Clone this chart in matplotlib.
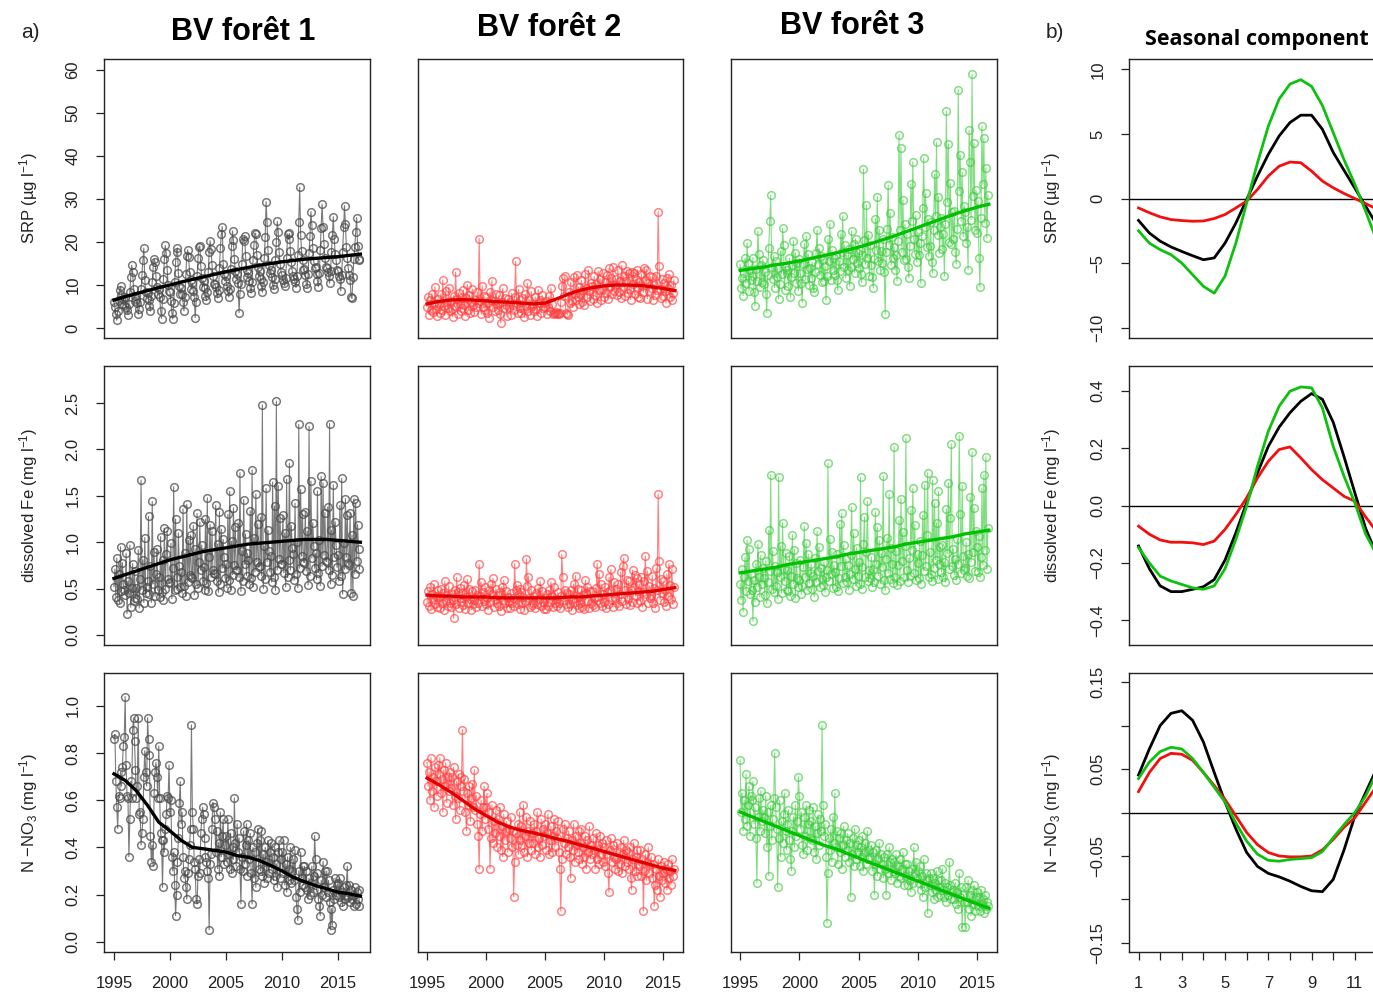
import numpy as np
import matplotlib
matplotlib.use('Agg')
import matplotlib.pyplot as plt
import matplotlib.ticker as ticker

plt.rcParams['font.family'] = ['Liberation Sans', 'DejaVu Sans']
plt.rcParams['mathtext.fontset'] = 'custom'
plt.rcParams['mathtext.rm'] = 'Liberation Sans'
plt.rcParams['mathtext.it'] = 'Liberation Sans:italic'
plt.rcParams['mathtext.bf'] = 'Liberation Sans:bold'

# ==============================================================================
# DADOS (valeurs mensuelles, une ligne par annee)
# ==============================================================================
# BV foret 1 : 1995-2016, BV foret 2 et 3 : 1995-2015
months_f1 = 1995 + np.arange(22 * 12) / 12.0
months_f23 = 1995 + np.arange(21 * 12) / 12.0
years_f1 = list(range(1995, 2018))
years_f23 = list(range(1995, 2017))

srp_f1 = [
    [6.1, 4.8, 3.2, 1.8, 4.0, 6.5, 8.9, 9.7, 7.6, 5.5, 6.8, 5.3],
    [7.2, 5.0, 4.3, 3.1, 5.6, 8.4, 11.8, 14.6, 13.0, 9.1, 7.4, 6.2],
    [6.8, 5.9, 3.2, 4.5, 6.1, 9.0, 12.4, 15.8, 18.6, 11.2, 8.3, 7.0],
    [8.1, 6.4, 5.2, 3.9, 7.4, 10.6, 14.2, 16.1, 15.3, 12.0, 9.5, 7.8],
    [9.0, 7.1, 4.0, 2.2, 6.8, 11.3, 16.0, 19.2, 17.4, 13.6, 10.1, 8.6],
    [8.4, 6.2, 3.6, 2.1, 5.9, 10.8, 15.4, 17.8, 18.6, 12.9, 9.8, 7.9],
    [9.3, 8.0, 6.1, 4.0, 7.2, 12.5, 16.8, 18.2, 16.5, 13.0, 11.2, 9.0],
    [10.4, 8.6, 7.3, 2.4, 6.0, 12.0, 16.2, 18.9, 19.1, 14.4, 11.7, 9.6],
    [11.0, 9.2, 7.5, 6.4, 8.3, 13.1, 17.6, 20.3, 18.4, 14.7, 12.1, 10.3],
    [10.2, 9.6, 8.1, 7.0, 8.8, 14.0, 18.5, 21.9, 23.6, 15.0, 12.6, 10.9],
    [12.1, 9.8, 8.5, 7.2, 9.1, 13.8, 19.0, 22.6, 20.4, 16.1, 13.3, 11.4],
    [12.5, 10.4, 3.6, 8.0, 10.2, 15.0, 20.6, 20.2, 21.4, 16.8, 13.6, 11.8],
    [12.9, 10.9, 9.2, 8.1, 10.6, 15.9, 19.4, 22.1, 21.8, 17.0, 14.2, 12.0],
    [13.2, 11.3, 9.8, 8.3, 10.8, 16.3, 21.2, 29.4, 24.6, 18.1, 14.6, 12.7],
    [13.5, 11.9, 10.0, 9.1, 11.3, 15.8, 20.1, 24.8, 22.3, 17.6, 15.0, 13.1],
    [12.3, 11.2, 10.4, 9.8, 11.6, 16.4, 21.9, 20.6, 22.0, 18.0, 15.3, 13.2],
    [12.0, 11.5, 10.6, 9.4, 12.1, 17.0, 24.6, 32.8, 21.7, 17.9, 15.8, 13.4],
    [13.8, 12.4, 10.3, 9.3, 12.6, 17.5, 21.4, 27.1, 24.0, 18.5, 15.6, 14.0],
    [14.2, 12.6, 11.0, 9.6, 12.9, 18.1, 23.2, 28.8, 23.5, 19.6, 16.2, 14.3],
    [14.0, 13.1, 12.0, 10.4, 13.2, 17.6, 21.6, 25.9, 20.8, 17.2, 15.8, 13.6],
    [13.3, 12.2, 11.4, 8.6, 12.4, 17.8, 23.6, 28.5, 24.1, 18.8, 16.4, 13.9],
    [12.4, 11.2, 7.2, 6.9, 11.8, 16.0, 18.9, 22.4, 25.7, 19.0, 16.1, 15.8],
]
srp_f2 = [
    [5.0, 7.2, 3.1, 6.4, 4.2, 8.0, 3.7, 5.8, 9.6, 4.5, 2.8, 6.8],
    [5.5, 3.4, 7.9, 4.1, 11.2, 5.2, 3.0, 8.6, 6.1, 4.7, 9.4, 3.9],
    [6.3, 4.4, 2.6, 7.5, 5.1, 13.0, 6.7, 3.3, 8.2, 5.6, 4.0, 7.0],
    [4.6, 8.8, 5.3, 2.9, 6.9, 10.1, 4.3, 7.7, 3.6, 6.0, 9.1, 5.4],
    [3.8, 6.5, 4.9, 8.3, 5.7, 20.8, 6.2, 3.2, 9.8, 5.0, 7.4, 4.2],
    [7.1, 3.5, 5.9, 2.4, 8.4, 6.6, 11.0, 4.8, 6.3, 3.9, 8.0, 5.5],
    [4.3, 7.6, 3.3, 1.2, 6.1, 9.2, 4.6, 7.0, 5.3, 2.7, 6.8, 4.9],
    [6.0, 3.1, 8.1, 5.4, 4.1, 7.3, 15.5, 5.9, 3.4, 9.0, 4.7, 6.4],
    [3.6, 6.9, 4.5, 2.5, 7.8, 5.2, 10.4, 4.0, 6.6, 3.0, 8.5, 5.1],
    [5.6, 3.9, 7.2, 4.4, 2.9, 8.9, 5.7, 6.5, 3.5, 7.6, 4.6, 5.8],
    [4.9, 6.2, 3.2, 5.0, 7.4, 4.0, 9.3, 5.5, 3.3, 3.6, 3.4, 3.7],
    [3.3, 3.5, 3.2, 3.4, 6.1, 9.8, 11.6, 7.4, 12.2, 3.6, 3.3, 3.1],
    [8.4, 5.9, 10.7, 6.3, 4.8, 11.9, 8.0, 6.6, 12.4, 7.2, 9.5, 5.6],
    [7.9, 11.1, 6.0, 8.8, 5.4, 12.6, 9.3, 7.1, 13.5, 8.5, 6.3, 10.4],
    [9.7, 6.8, 12.0, 7.6, 10.3, 5.9, 13.2, 8.9, 11.5, 6.4, 9.1, 12.8],
    [7.3, 10.6, 8.2, 12.3, 6.7, 13.9, 9.8, 11.7, 7.9, 14.1, 8.6, 10.0],
    [11.4, 7.7, 13.6, 8.4, 10.9, 6.9, 14.6, 9.5, 12.1, 7.4, 11.0, 13.3],
    [8.1, 12.7, 9.0, 6.6, 13.0, 10.2, 12.9, 7.8, 11.3, 9.4, 13.5, 7.2],
    [10.8, 7.0, 12.5, 9.7, 8.3, 14.0, 11.2, 13.6, 6.8, 10.5, 8.7, 12.0],
    [9.3, 11.8, 6.5, 10.1, 7.6, 12.2, 8.9, 27.1, 14.4, 9.0, 6.9, 11.5],
    [7.5, 10.4, 8.6, 5.8, 11.6, 9.2, 12.5, 7.1, 10.0, 6.4, 8.2, 11.2],
]
srp_f3 = [
    [14.8, 9.2, 11.6, 7.5, 12.9, 16.3, 10.4, 19.8, 15.1, 8.7, 13.5, 11.2],
    [12.1, 16.4, 8.3, 5.2, 13.8, 11.0, 22.5, 17.2, 9.6, 14.7, 10.8, 15.9],
    [10.3, 13.1, 7.9, 3.6, 12.4, 18.7, 24.8, 30.9, 14.2, 11.5, 16.8, 9.4],
    [15.5, 11.8, 13.9, 6.8, 10.2, 17.9, 12.6, 23.2, 19.4, 8.9, 14.3, 12.7],
    [13.4, 9.8, 16.2, 7.1, 11.9, 14.6, 20.3, 12.8, 17.5, 10.4, 15.2, 8.6],
    [16.1, 12.7, 10.5, 5.9, 14.8, 19.6, 11.3, 21.4, 13.7, 17.2, 9.9, 14.0],
    [11.6, 15.3, 9.2, 8.4, 13.1, 17.4, 22.8, 14.9, 18.6, 12.3, 16.7, 10.8],
    [15.8, 10.9, 14.4, 6.5, 12.0, 20.7, 15.6, 24.3, 11.2, 18.1, 13.5, 16.2],
    [12.4, 17.0, 11.1, 8.8, 15.7, 13.2, 21.9, 17.8, 26.1, 14.1, 19.3, 11.7],
    [16.9, 13.6, 18.4, 9.7, 14.3, 22.6, 16.0, 19.5, 12.9, 20.8, 15.1, 17.5],
    [13.9, 18.2, 12.5, 10.6, 17.0, 37.0, 20.4, 14.8, 28.6, 16.3, 21.7, 12.2],
    [19.3, 14.7, 11.8, 9.3, 16.1, 25.4, 18.2, 30.6, 15.5, 22.9, 13.4, 17.9],
    [15.2, 20.6, 13.0, 3.2, 17.7, 23.1, 33.2, 19.4, 26.8, 14.6, 21.2, 16.4],
    [18.8, 13.5, 16.9, 10.9, 20.3, 45.0, 22.7, 42.0, 17.6, 29.8, 15.9, 24.1],
    [16.0, 21.8, 14.2, 11.7, 19.1, 33.5, 24.9, 38.7, 20.6, 17.3, 26.2, 15.4],
    [22.4, 17.1, 19.8, 10.4, 21.5, 28.0, 39.5, 23.6, 31.4, 18.9, 25.3, 16.7],
    [19.0, 24.7, 15.3, 12.8, 22.9, 35.8, 26.1, 43.2, 21.7, 30.5, 17.4, 23.6],
    [25.5, 18.4, 21.9, 12.1, 24.2, 50.5, 29.3, 42.8, 20.1, 33.7, 19.6, 27.0],
    [20.8, 27.3, 17.6, 14.9, 23.0, 55.5, 31.9, 40.3, 24.8, 36.2, 21.3, 28.4],
    [26.9, 19.7, 23.5, 13.6, 46.0, 38.6, 25.2, 59.0, 30.7, 43.0, 22.8, 32.1],
    [22.2, 29.6, 16.4, 9.5, 25.7, 47.0, 33.4, 44.1, 24.5, 37.2, 20.9, 31.0],
]

fe_f1 = [
    [0.52, 0.71, 0.41, 0.83, 0.38, 0.66, 0.34, 0.95, 0.47, 0.78, 0.55, 0.49],
    [0.43, 0.88, 0.23, 0.58, 0.45, 0.97, 0.30, 0.51, 0.77, 0.37, 0.69, 0.40],
    [0.51, 0.39, 0.92, 0.29, 0.60, 1.67, 0.49, 0.81, 0.35, 1.05, 0.45, 0.52],
    [0.58, 1.28, 0.44, 0.74, 0.35, 1.44, 0.55, 0.89, 0.42, 0.66, 0.93, 0.48],
    [0.62, 0.41, 1.06, 0.46, 0.81, 0.38, 1.15, 0.50, 0.87, 1.12, 0.60, 0.56],
    [0.57, 0.99, 0.39, 0.72, 1.60, 0.48, 1.25, 0.63, 0.50, 1.10, 0.74, 0.52],
    [0.68, 0.45, 1.36, 0.53, 0.88, 0.42, 1.41, 0.57, 1.02, 0.65, 1.08, 0.63],
    [0.61, 1.18, 0.43, 0.93, 0.55, 1.31, 0.51, 0.79, 1.22, 0.70, 0.97, 0.58],
    [0.73, 0.49, 1.25, 0.56, 1.48, 0.47, 0.84, 1.19, 0.62, 1.12, 0.70, 0.67],
    [0.66, 1.40, 0.58, 0.98, 0.46, 1.33, 0.55, 1.14, 0.72, 1.03, 0.84, 0.61],
    [0.77, 0.51, 1.30, 0.59, 1.55, 0.49, 1.01, 0.65, 1.37, 0.75, 1.16, 0.70],
    [0.70, 1.21, 0.62, 1.75, 0.47, 0.91, 0.58, 1.46, 0.76, 1.09, 0.64, 0.88],
    [0.81, 0.55, 1.34, 0.61, 1.78, 0.52, 1.05, 0.68, 1.52, 0.79, 1.20, 0.73],
    [0.74, 1.27, 0.64, 2.48, 0.50, 0.96, 0.60, 1.58, 0.79, 1.13, 0.91, 0.68],
    [0.85, 0.57, 1.65, 0.63, 1.39, 0.48, 2.52, 0.70, 1.61, 0.82, 1.26, 0.77],
    [0.76, 1.29, 0.67, 1.10, 0.52, 1.68, 0.62, 0.81, 1.85, 0.70, 1.18, 0.94],
    [0.87, 0.59, 1.42, 0.66, 1.00, 0.51, 2.27, 0.72, 1.57, 0.85, 1.30, 0.79],
    [0.78, 1.33, 0.69, 1.12, 0.54, 2.25, 0.64, 1.66, 0.83, 1.21, 0.96, 0.72],
    [0.88, 0.60, 1.55, 0.67, 1.02, 0.53, 1.71, 0.74, 1.64, 0.86, 1.32, 0.80],
    [0.79, 1.38, 0.70, 2.28, 0.55, 1.13, 0.65, 1.62, 0.84, 1.22, 0.97, 0.73],
    [0.86, 0.58, 1.40, 0.64, 1.69, 0.44, 0.99, 0.71, 1.47, 0.84, 1.29, 0.78],
    [0.75, 1.31, 0.45, 1.08, 0.42, 1.47, 0.66, 1.42, 0.80, 1.19, 0.93, 0.71],
]
fe_f2 = [
    [0.36, 0.47, 0.31, 0.52, 0.28, 0.44, 0.39, 0.55, 0.33, 0.42, 0.30, 0.48],
    [0.41, 0.29, 0.50, 0.34, 0.45, 0.27, 0.58, 0.37, 0.43, 0.31, 0.53, 0.35],
    [0.30, 0.44, 0.38, 0.18, 0.49, 0.33, 0.62, 0.46, 0.29, 0.51, 0.36, 0.40],
    [0.45, 0.32, 0.54, 0.28, 0.41, 0.60, 0.35, 0.50, 0.39, 0.27, 0.47, 0.33],
    [0.38, 0.49, 0.30, 0.43, 0.34, 0.76, 0.42, 0.57, 0.31, 0.46, 0.37, 0.52],
    [0.33, 0.40, 0.27, 0.48, 0.36, 0.55, 0.44, 0.61, 0.30, 0.39, 0.50, 0.34],
    [0.43, 0.31, 0.46, 0.26, 0.52, 0.38, 0.59, 0.35, 0.47, 0.29, 0.41, 0.36],
    [0.29, 0.45, 0.35, 0.40, 0.31, 0.77, 0.48, 0.54, 0.33, 0.44, 0.28, 0.50],
    [0.46, 0.34, 0.41, 0.27, 0.37, 0.82, 0.53, 0.63, 0.40, 0.30, 0.49, 0.32],
    [0.35, 0.42, 0.29, 0.45, 0.33, 0.51, 0.39, 0.58, 0.31, 0.47, 0.36, 0.28],
    [0.40, 0.28, 0.44, 0.31, 0.48, 0.36, 0.57, 0.42, 0.30, 0.52, 0.34, 0.39],
    [0.31, 0.46, 0.35, 0.29, 0.42, 0.87, 0.62, 0.38, 0.49, 0.33, 0.45, 0.30],
    [0.44, 0.33, 0.48, 0.27, 0.39, 0.55, 0.36, 0.64, 0.32, 0.50, 0.29, 0.41],
    [0.34, 0.49, 0.30, 0.43, 0.28, 0.59, 0.45, 0.52, 0.37, 0.29, 0.47, 0.35],
    [0.47, 0.32, 0.40, 0.30, 0.51, 0.77, 0.41, 0.66, 0.34, 0.55, 0.31, 0.44],
    [0.36, 0.52, 0.29, 0.46, 0.33, 0.62, 0.49, 0.71, 0.38, 0.30, 0.57, 0.40],
    [0.50, 0.35, 0.55, 0.31, 0.44, 0.68, 0.37, 0.74, 0.83, 0.48, 0.33, 0.59],
    [0.39, 0.58, 0.32, 0.49, 0.36, 0.70, 0.52, 0.65, 0.42, 0.61, 0.34, 0.47],
    [0.55, 0.37, 0.62, 0.30, 0.46, 0.58, 0.85, 0.44, 0.69, 0.35, 0.53, 0.40],
    [0.43, 0.64, 0.34, 0.51, 0.29, 0.72, 0.48, 1.52, 0.80, 0.38, 0.60, 0.45],
    [0.58, 0.36, 0.49, 0.31, 0.66, 0.42, 0.77, 0.54, 0.39, 0.71, 0.33, 0.52],
]
fe_f3 = [
    [0.55, 0.38, 0.71, 0.25, 0.62, 0.84, 0.47, 1.02, 0.58, 0.93, 0.44, 0.66],
    [0.48, 0.15, 0.59, 0.36, 0.77, 0.52, 0.98, 0.63, 0.41, 0.86, 0.55, 0.72],
    [0.61, 0.43, 0.80, 0.34, 0.57, 1.13, 0.69, 1.73, 0.50, 0.91, 0.46, 0.74],
    [0.53, 0.68, 0.39, 1.70, 0.62, 0.96, 0.45, 1.21, 0.71, 0.58, 0.88, 0.49],
    [0.70, 0.47, 0.85, 0.42, 0.64, 1.08, 0.55, 0.92, 0.40, 0.78, 0.61, 0.52],
    [0.59, 0.81, 0.44, 0.53, 0.73, 1.17, 0.62, 0.99, 0.48, 0.87, 0.56, 0.67],
    [0.76, 0.50, 0.64, 0.41, 0.83, 0.57, 1.12, 0.69, 0.95, 0.52, 0.72, 0.60],
    [0.54, 0.79, 0.46, 0.62, 0.70, 1.85, 0.58, 1.04, 0.66, 0.90, 0.51, 0.75],
    [0.68, 0.52, 0.87, 0.47, 0.61, 1.20, 0.74, 1.31, 0.56, 0.97, 0.63, 0.82],
    [0.57, 0.75, 0.49, 0.66, 0.86, 1.38, 0.60, 1.10, 0.71, 0.53, 0.94, 0.64],
    [0.79, 0.55, 1.70, 0.50, 0.73, 0.98, 1.27, 0.62, 0.89, 1.44, 0.58, 0.70],
    [0.61, 0.84, 0.52, 0.71, 0.57, 1.33, 0.76, 1.16, 0.64, 1.02, 0.55, 0.88],
    [0.73, 1.71, 0.59, 0.48, 0.82, 1.05, 0.67, 1.52, 0.60, 0.94, 0.77, 0.56],
    [2.03, 0.63, 0.91, 0.54, 0.75, 1.24, 0.58, 1.47, 0.80, 1.11, 0.62, 0.96],
    [2.12, 0.70, 0.57, 0.83, 0.64, 1.35, 0.92, 1.58, 0.67, 1.19, 0.59, 0.87],
    [0.78, 0.61, 1.01, 0.55, 0.86, 1.29, 0.69, 1.62, 0.74, 1.08, 1.75, 0.63],
    [0.90, 0.66, 0.58, 1.67, 0.72, 1.42, 0.81, 1.21, 0.60, 1.55, 0.77, 0.95],
    [0.68, 0.97, 0.62, 0.79, 0.57, 1.36, 0.88, 1.64, 0.71, 1.26, 2.06, 0.74],
    [0.93, 0.65, 0.82, 0.59, 1.04, 0.76, 2.15, 1.30, 0.67, 1.61, 0.85, 0.70],
    [0.72, 1.00, 0.64, 0.87, 0.61, 1.49, 0.79, 1.97, 0.90, 1.37, 0.69, 1.12],
    [0.95, 0.68, 1.07, 0.62, 0.84, 1.58, 0.75, 1.73, 0.92, 1.92, 0.71, 1.15],
]

no3_f1 = [
    [0.86, 0.88, 0.68, 0.57, 0.48, 0.62, 0.61, 0.72, 0.66, 0.74, 0.83, 0.87],
    [1.04, 0.75, 0.62, 0.61, 0.36, 0.52, 0.68, 0.61, 0.90, 0.95, 0.85, 0.73],
    [0.61, 0.66, 0.95, 0.54, 0.55, 0.41, 0.46, 0.52, 0.70, 0.81, 0.72, 0.66],
    [0.95, 0.86, 0.79, 0.45, 0.34, 0.41, 0.32, 0.63, 0.72, 0.76, 0.70, 0.61],
    [0.83, 0.61, 0.46, 0.43, 0.23, 0.43, 0.38, 0.48, 0.54, 0.62, 0.61, 0.75],
    [0.55, 0.60, 0.36, 0.30, 0.38, 0.24, 0.11, 0.20, 0.34, 0.44, 0.59, 0.68],
    [0.50, 0.55, 0.36, 0.27, 0.30, 0.23, 0.18, 0.29, 0.35, 0.41, 0.48, 0.92],
    [0.55, 0.48, 0.34, 0.31, 0.18, 0.16, 0.28, 0.35, 0.29, 0.46, 0.52, 0.57],
    [0.54, 0.44, 0.36, 0.34, 0.30, 0.27, 0.05, 0.33, 0.37, 0.48, 0.59, 0.57],
    [0.52, 0.38, 0.47, 0.31, 0.42, 0.28, 0.55, 0.36, 0.45, 0.52, 0.33, 0.41],
    [0.45, 0.34, 0.52, 0.37, 0.31, 0.46, 0.29, 0.40, 0.35, 0.61, 0.42, 0.32],
    [0.50, 0.38, 0.44, 0.31, 0.16, 0.36, 0.30, 0.47, 0.33, 0.41, 0.50, 0.28],
    [0.43, 0.35, 0.46, 0.29, 0.16, 0.40, 0.27, 0.38, 0.23, 0.42, 0.48, 0.31],
    [0.43, 0.30, 0.47, 0.28, 0.37, 0.25, 0.40, 0.34, 0.27, 0.43, 0.29, 0.38],
    [0.42, 0.31, 0.36, 0.26, 0.40, 0.28, 0.33, 0.23, 0.38, 0.43, 0.27, 0.35],
    [0.38, 0.29, 0.43, 0.24, 0.33, 0.21, 0.36, 0.26, 0.31, 0.40, 0.25, 0.30],
    [0.35, 0.26, 0.39, 0.19, 0.14, 0.09, 0.30, 0.21, 0.38, 0.27, 0.32, 0.24],
    [0.32, 0.23, 0.30, 0.22, 0.18, 0.27, 0.20, 0.25, 0.32, 0.21, 0.28, 0.45],
    [0.35, 0.22, 0.29, 0.18, 0.15, 0.11, 0.26, 0.20, 0.34, 0.23, 0.30, 0.19],
    [0.30, 0.21, 0.26, 0.17, 0.05, 0.14, 0.07, 0.22, 0.18, 0.27, 0.20, 0.24],
    [0.25, 0.19, 0.27, 0.17, 0.21, 0.15, 0.23, 0.18, 0.20, 0.24, 0.32, 0.19],
    [0.24, 0.17, 0.22, 0.18, 0.20, 0.15, 0.23, 0.16, 0.21, 0.18, 0.22, 0.15],
]
no3_f2 = [
    [0.76, 0.66, 0.72, 0.60, 0.78, 0.64, 0.70, 0.57, 0.74, 0.68, 0.62, 0.75],
    [0.71, 0.78, 0.63, 0.69, 0.55, 0.73, 0.66, 0.76, 0.59, 0.70, 0.64, 0.72],
    [0.65, 0.70, 0.58, 0.74, 0.62, 0.52, 0.68, 0.61, 0.71, 0.56, 0.66, 0.70],
    [0.90, 0.64, 0.69, 0.55, 0.47, 0.63, 0.58, 0.66, 0.51, 0.61, 0.67, 0.57],
    [0.73, 0.56, 0.62, 0.50, 0.45, 0.31, 0.54, 0.60, 0.47, 0.57, 0.66, 0.52],
    [0.57, 0.63, 0.48, 0.55, 0.31, 0.44, 0.58, 0.42, 0.51, 0.46, 0.56, 0.40],
    [0.52, 0.45, 0.57, 0.39, 0.49, 0.36, 0.54, 0.43, 0.47, 0.51, 0.38, 0.48],
    [0.44, 0.53, 0.40, 0.47, 0.19, 0.34, 0.46, 0.41, 0.50, 0.37, 0.55, 0.43],
    [0.49, 0.41, 0.58, 0.38, 0.45, 0.53, 0.36, 0.47, 0.42, 0.51, 0.39, 0.46],
    [0.42, 0.50, 0.37, 0.47, 0.55, 0.40, 0.44, 0.36, 0.52, 0.41, 0.48, 0.45],
    [0.50, 0.39, 0.46, 0.54, 0.37, 0.43, 0.49, 0.38, 0.45, 0.52, 0.40, 0.47],
    [0.44, 0.51, 0.38, 0.31, 0.13, 0.35, 0.48, 0.42, 0.50, 0.37, 0.44, 0.40],
    [0.47, 0.36, 0.27, 0.43, 0.39, 0.50, 0.34, 0.45, 0.41, 0.38, 0.47, 0.35],
    [0.42, 0.48, 0.33, 0.40, 0.36, 0.45, 0.31, 0.43, 0.38, 0.49, 0.35, 0.41],
    [0.37, 0.44, 0.39, 0.31, 0.46, 0.35, 0.41, 0.33, 0.45, 0.37, 0.42, 0.34],
    [0.40, 0.32, 0.43, 0.37, 0.29, 0.21, 0.39, 0.44, 0.34, 0.41, 0.36, 0.31],
    [0.35, 0.42, 0.30, 0.38, 0.33, 0.40, 0.29, 0.37, 0.43, 0.32, 0.39, 0.34],
    [0.38, 0.31, 0.40, 0.27, 0.22, 0.35, 0.42, 0.30, 0.36, 0.28, 0.39, 0.33],
    [0.32, 0.39, 0.28, 0.35, 0.13, 0.30, 0.37, 0.26, 0.34, 0.40, 0.29, 0.33],
    [0.36, 0.27, 0.33, 0.15, 0.24, 0.31, 0.22, 0.35, 0.28, 0.19, 0.32, 0.26],
    [0.29, 0.34, 0.25, 0.31, 0.22, 0.33, 0.27, 0.30, 0.24, 0.35, 0.28, 0.31],
]
no3_f3 = [
    [0.77, 0.55, 0.63, 0.47, 0.60, 0.52, 0.71, 0.49, 0.58, 0.66, 0.45, 0.62],
    [0.60, 0.68, 0.50, 0.57, 0.44, 0.25, 0.53, 0.61, 0.47, 0.64, 0.51, 0.56],
    [0.53, 0.46, 0.62, 0.40, 0.55, 0.28, 0.49, 0.58, 0.43, 0.52, 0.61, 0.80],
    [0.57, 0.48, 0.23, 0.44, 0.60, 0.36, 0.51, 0.42, 0.54, 0.63, 0.47, 0.39],
    [0.50, 0.56, 0.43, 0.35, 0.30, 0.47, 0.53, 0.40, 0.58, 0.45, 0.51, 0.70],
    [0.62, 0.48, 0.55, 0.41, 0.37, 0.53, 0.45, 0.58, 0.39, 0.50, 0.56, 0.44],
    [0.51, 0.43, 0.57, 0.38, 0.49, 0.35, 0.46, 0.54, 0.41, 0.52, 0.47, 0.92],
    [0.58, 0.45, 0.50, 0.36, 0.08, 0.29, 0.44, 0.39, 0.48, 0.34, 0.53, 0.42],
    [0.63, 0.40, 0.47, 0.33, 0.44, 0.38, 0.46, 0.31, 0.41, 0.49, 0.36, 0.43],
    [0.39, 0.46, 0.34, 0.42, 0.19, 0.37, 0.44, 0.32, 0.48, 0.35, 0.41, 0.38],
    [0.43, 0.32, 0.40, 0.36, 0.45, 0.30, 0.38, 0.42, 0.33, 0.47, 0.35, 0.39],
    [0.36, 0.41, 0.30, 0.38, 0.20, 0.33, 0.39, 0.28, 0.35, 0.42, 0.31, 0.37],
    [0.33, 0.27, 0.36, 0.31, 0.20, 0.37, 0.29, 0.40, 0.34, 0.26, 0.35, 0.30],
    [0.34, 0.29, 0.37, 0.25, 0.32, 0.28, 0.35, 0.27, 0.31, 0.38, 0.24, 0.33],
    [0.28, 0.33, 0.24, 0.30, 0.26, 0.21, 0.31, 0.25, 0.40, 0.29, 0.34, 0.27],
    [0.30, 0.25, 0.32, 0.22, 0.28, 0.19, 0.35, 0.23, 0.29, 0.26, 0.12, 0.27],
    [0.24, 0.29, 0.21, 0.27, 0.18, 0.25, 0.22, 0.30, 0.19, 0.26, 0.23, 0.20],
    [0.26, 0.31, 0.22, 0.19, 0.25, 0.17, 0.23, 0.20, 0.34, 0.24, 0.18, 0.21],
    [0.22, 0.18, 0.25, 0.16, 0.21, 0.14, 0.29, 0.19, 0.23, 0.06, 0.20, 0.17],
    [0.06, 0.23, 0.17, 0.26, 0.14, 0.20, 0.11, 0.22, 0.16, 0.24, 0.13, 0.19],
    [0.21, 0.15, 0.19, 0.13, 0.22, 0.16, 0.18, 0.12, 0.20, 0.14, 0.17, 0.15],
]

# tendances (valeurs annuelles)
trend_srp_f1 = [6.5, 7.3, 8.0, 8.7, 9.4, 10.0, 10.7, 11.3, 11.9, 12.5, 13.1, 13.6,
                14.1, 14.6, 15.0, 15.4, 15.7, 16.0, 16.2, 16.4, 16.6, 16.9, 17.2]
trend_srp_f2 = [5.6, 6.2, 6.5, 6.6, 6.5, 6.3, 6.1, 6.0, 5.8, 5.6, 5.8, 6.8,
                7.9, 8.8, 9.4, 9.8, 10.0, 10.0, 9.9, 9.6, 9.2, 8.7]
trend_srp_f3 = [13.4, 13.8, 14.2, 14.7, 15.1, 15.6, 16.2, 16.8, 17.4, 18.1, 18.8, 19.6,
                20.5, 21.4, 22.4, 23.4, 24.4, 25.4, 26.4, 27.3, 28.1, 28.8]
trend_fe_f1 = [0.61, 0.65, 0.69, 0.73, 0.77, 0.81, 0.84, 0.87, 0.90, 0.92, 0.94, 0.96,
               0.98, 0.99, 1.00, 1.01, 1.02, 1.03, 1.03, 1.03, 1.02, 1.01, 1.00]
trend_fe_f2 = [0.43, 0.42, 0.42, 0.41, 0.41, 0.41, 0.40, 0.40, 0.40, 0.40, 0.40, 0.40,
               0.41, 0.41, 0.42, 0.43, 0.44, 0.45, 0.46, 0.47, 0.49, 0.51]
trend_fe_f3 = [0.67, 0.69, 0.71, 0.73, 0.76, 0.78, 0.80, 0.82, 0.84, 0.87, 0.89, 0.91,
               0.93, 0.95, 0.98, 1.00, 1.02, 1.04, 1.06, 1.09, 1.11, 1.13]
trend_no3_f1 = [0.712, 0.684, 0.64, 0.578, 0.507, 0.47, 0.43, 0.40, 0.394, 0.387, 0.38, 0.365,
                0.358, 0.344, 0.323, 0.30, 0.273, 0.255, 0.238, 0.224, 0.21, 0.203, 0.193]
trend_no3_f2 = [0.694, 0.666, 0.635, 0.60, 0.564, 0.535, 0.507, 0.486, 0.472, 0.462, 0.45, 0.436,
                0.425, 0.41, 0.397, 0.382, 0.368, 0.354, 0.34, 0.326, 0.312, 0.302]
trend_no3_f3 = [0.55, 0.53, 0.51, 0.49, 0.47, 0.45, 0.43, 0.41, 0.395, 0.375, 0.355, 0.335,
                0.316, 0.296, 0.277, 0.257, 0.238, 0.218, 0.199, 0.179, 0.16, 0.142]

# composante saisonniere (mois 1 a 12, pas d'un demi-mois)
seas_months = [1, 1.5, 2, 2.5, 3, 3.5, 4, 4.5, 5, 5.5, 6, 6.5, 7, 7.5, 8, 8.5,
               9, 9.5, 10, 10.5, 11, 11.5, 12]
seas_srp_f1 = [-1.7, -2.67, -3.3, -3.75, -4.1, -4.43, -4.74, -4.6, -3.45, -1.9, -0.08, 1.74,
               3.42, 4.84, 5.88, 6.45, 6.45, 5.36, 3.57, 2.18, 0.8, -0.6, -2.0]
seas_srp_f2 = [-0.73, -1.1, -1.42, -1.63, -1.71, -1.76, -1.74, -1.55, -1.24, -0.73, -0.2, 0.7,
               1.74, 2.5, 2.82, 2.77, 2.12, 1.35, 0.83, 0.39, 0.0, -0.4, -0.8]
seas_srp_f3 = [-2.5, -3.45, -3.96, -4.35, -5.0, -5.9, -6.8, -7.33, -6.0, -3.45, -0.34, 2.77,
               5.6, 7.7, 8.86, 9.2, 8.68, 7.2, 5.1, 3.0, 1.1, -1.0, -3.2]
seas_fe_f1 = [-0.141, -0.22, -0.28, -0.30, -0.30, -0.292, -0.283, -0.258, -0.19, -0.095, 0.01, 0.114,
              0.206, 0.273, 0.323, 0.363, 0.39, 0.37, 0.29, 0.17, 0.044, -0.08, -0.17]
seas_fe_f2 = [-0.072, -0.1, -0.12, -0.128, -0.128, -0.13, -0.136, -0.124, -0.083, -0.031, 0.027, 0.096,
              0.154, 0.195, 0.204, 0.166, 0.125, 0.09, 0.061, 0.032, 0.015, -0.04, -0.09]
seas_fe_f3 = [-0.147, -0.2, -0.246, -0.263, -0.275, -0.287, -0.292, -0.28, -0.22, -0.118, -0.002, 0.137,
              0.259, 0.346, 0.398, 0.413, 0.41, 0.34, 0.206, 0.102, 0.009, -0.1, -0.17]
seas_no3_f1 = [0.043, 0.073, 0.1, 0.114, 0.117, 0.106, 0.081, 0.046, 0.012, -0.019, -0.046, -0.062,
               -0.07, -0.074, -0.079, -0.085, -0.09, -0.091, -0.077, -0.043, -0.004, 0.023, 0.05]
seas_no3_f2 = [0.024, 0.046, 0.062, 0.068, 0.067, 0.06, 0.046, 0.031, 0.015, -0.004, -0.023, -0.037,
               -0.046, -0.05, -0.051, -0.051, -0.05, -0.043, -0.031, -0.017, -0.006, 0.012, 0.03]
seas_no3_f3 = [0.039, 0.058, 0.07, 0.075, 0.073, 0.062, 0.046, 0.029, 0.012, -0.012, -0.033, -0.048,
               -0.055, -0.056, -0.054, -0.053, -0.052, -0.045, -0.029, -0.014, 0.0, 0.019, 0.045]

# ==============================================================================
# MISE EN PAGE
# ==============================================================================
W, H = 1373, 994
fig = plt.figure(figsize=(W / 100, H / 100), dpi=100)

col_px = [(104, 370), (418, 683), (731, 997), (1129, 1386)]
row_px = [(59, 338), (366, 645), (673, 952)]

pt_colors = [(0.30, 0.30, 0.30, 0.75), (1.0, 0.25, 0.25, 0.65), (0.25, 0.80, 0.25, 0.65)]
trend_colors = ['black', '#E00000', '#00C000']
seas_colors = ['black', '#F01010', '#10C010']

ylims = [(-2.33, 62.6), (-0.108, 2.9), (-0.044, 1.14)]
yticks = [np.arange(0, 61, 10), np.arange(0, 2.6, 0.5), np.arange(0, 1.01, 0.2)]
yfmts = ['%d', '%.1f', '%.1f']
ylabels = ['SRP (µg l$^{-1}$)', 'dissolved Fe (mg l$^{-1}$)', 'N \u2212NO$_3$ (mg l$^{-1}$)']

series = [[srp_f1, srp_f2, srp_f3], [fe_f1, fe_f2, fe_f3], [no3_f1, no3_f2, no3_f3]]
trends = [[trend_srp_f1, trend_srp_f2, trend_srp_f3],
          [trend_fe_f1, trend_fe_f2, trend_fe_f3],
          [trend_no3_f1, trend_no3_f2, trend_no3_f3]]
seasonals = [[seas_srp_f1, seas_srp_f2, seas_srp_f3],
             [seas_fe_f1, seas_fe_f2, seas_fe_f3],
             [seas_no3_f1, seas_no3_f2, seas_no3_f3]]

seas_ylims = [(-10.8, 10.8), (-0.486, 0.486), (-0.1604, 0.1604)]
seas_yticks = [[-10, -5, 0, 5, 10], [-0.4, -0.2, 0.0, 0.2, 0.4],
               [-0.15, -0.1, -0.05, 0, 0.05, 0.1, 0.15]]
seas_ytlabels = [['\u221210', '\u22125', '0', '5', '10'],
                 ['\u22120.4', '\u22120.2', '0.0', '0.2', '0.4'],
                 ['\u22120.15', '', '\u22120.05', '', '0.05', '', '0.15']]

TXT = '#222222'


def make_axes(col, row):
    x0, x1 = col_px[col]
    y0, y1 = row_px[row]
    ax = fig.add_axes([x0 / W, 1 - y1 / H, (x1 - x0) / W, (y1 - y0) / H])
    for s in ax.spines.values():
        s.set_linewidth(1.0)
        s.set_color('#222222')
    ax.tick_params(length=6, width=0.9, color='#222222', labelsize=12,
                   labelcolor=TXT, pad=11, direction='out')
    return ax


def style_yticks(ax):
    for lab in ax.get_yticklabels():
        lab.set_rotation(90)
        lab.set_va('center')


for r in range(3):
    for c in range(3):
        ax = make_axes(c, r)
        vals = np.ravel(series[r][c])
        t = months_f1 if c == 0 else months_f23
        yrs = years_f1 if c == 0 else years_f23
        ax.plot(t, vals, '-', color=pt_colors[c], lw=0.8, zorder=2)
        ax.plot(t, vals, 'o', mfc='none', mec=pt_colors[c], ms=5.5, mew=1.1, zorder=3)
        ax.plot(yrs, trends[r][c], '-', color=trend_colors[c], lw=2.4, zorder=4)

        if c == 0:
            ax.set_xlim(1994.11, 2017.86)
        else:
            ax.set_xlim(1994.23, 2016.69)
        ax.set_ylim(*ylims[r])

        if c == 0:
            ax.set_yticks(yticks[r])
            ax.yaxis.set_major_formatter(ticker.FormatStrFormatter(yfmts[r]))
            style_yticks(ax)
            ax.set_ylabel(ylabels[r], fontsize=12, color=TXT)
            ax.yaxis.set_label_coords(-0.24, 0.5)
        else:
            ax.set_yticks([])

        if r == 2:
            ax.set_xticks([1995, 2000, 2005, 2010, 2015])
        else:
            ax.set_xticks([])

    # composante saisonniere
    ax = make_axes(3, r)
    ax.axhline(0, color='black', lw=1.0, zorder=1)
    for c in range(3):
        ax.plot(seas_months, seasonals[r][c], '-', color=seas_colors[c], lw=2.0, zorder=2 + c)
    ax.set_xlim(0.56, 12.44)
    ax.set_ylim(*seas_ylims[r])
    ax.set_yticks(seas_yticks[r])
    ax.set_yticklabels(seas_ytlabels[r])
    style_yticks(ax)
    ax.set_ylabel(ylabels[r], fontsize=12, color=TXT)
    ax.yaxis.set_label_coords(-0.258, 0.5)
    if r == 2:
        ax.set_xticks(range(1, 13))
        ax.set_xticklabels([str(m) if m % 2 == 1 else '' for m in range(1, 13)])
    else:
        ax.set_xticks([])

# titres
fig.text(30 / W, 1 - 32 / H, 'a)', fontsize=15, color=TXT, ha='center', va='center')
fig.text(1055 / W, 1 - 32 / H, 'b)', fontsize=15, color=TXT, ha='center', va='center')
fig.text(243 / W, 1 - 32 / H, 'BV forêt 1', fontsize=22, fontweight='bold', ha='center', va='center')
fig.text(549 / W, 1 - 28 / H, 'BV forêt 2', fontsize=22, fontweight='bold', ha='center', va='center')
fig.text(852 / W, 1 - 26 / H, 'BV forêt 3', fontsize=22, fontweight='bold', ha='center', va='center')
fig.text(1145 / W, 1 - 39 / H, 'Seasonal component', fontsize=15.5, fontweight='bold',
         family='Open Sans', ha='left', va='center')

fig.savefig('out.png', dpi=100)
